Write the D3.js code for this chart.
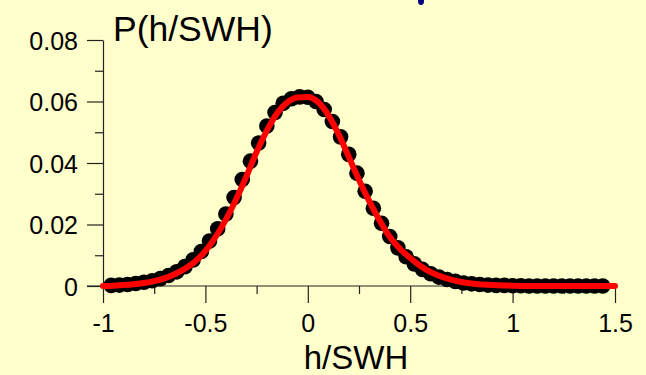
<!DOCTYPE html>
<html>
<head>
<meta charset="utf-8">
<script src="https://cdn.jsdelivr.net/npm/d3@7"></script>
<style>
  html, body { margin: 0; padding: 0; background: #FFFFCC; }
  svg { display: block; }
  text { font-family: "Liberation Sans", Arial, sans-serif; fill: #000; }
</style>
</head>
<body>
<svg id="chart" width="646" height="375"></svg>
<script>
// ---- data ----
const xTickValues = [-1, -0.5, 0, 0.5, 1, 1.5];
const xTickLabels = ["-1", "-0.5", "0", "0.5", "1", "1.5"];
const xMinorTicks = [-0.75, -0.25, 0.25, 0.75, 1.25];
const yTickValues = [0, 0.02, 0.04, 0.06, 0.08];
const yTickLabels = ["0", "0.02", "0.04", "0.06", "0.08"];
const yMinorTicks = [0.01, 0.03, 0.05, 0.07];

// measured points (black dots)
const dotX = [-0.96,-0.92,-0.88,-0.84,-0.80,-0.76,-0.72,-0.68,-0.64,-0.60,
              -0.56,-0.52,-0.48,-0.44,-0.40,-0.36,-0.32,-0.28,-0.24,-0.20,
              -0.16,-0.12,-0.08,-0.04, 0.00, 0.04, 0.08, 0.12, 0.16, 0.20,
               0.24, 0.28, 0.32, 0.36, 0.40, 0.44, 0.48, 0.52, 0.56, 0.60,
               0.64, 0.68, 0.72, 0.76, 0.80, 0.84, 0.88, 0.92, 0.96, 1.00,
               1.04, 1.08, 1.12, 1.16, 1.20, 1.24, 1.28, 1.32, 1.36, 1.40, 1.44];
const dotY = [0.0002,0.0003,0.0005,0.0008,0.0012,0.0017,0.0024,0.0034,0.0046,0.0063,
              0.0085,0.0112,0.0146,0.0186,0.0234,0.0288,0.0346,0.0406,0.0465,0.0520,
              0.0564,0.0594,0.0609,0.0615,0.0614,0.0600,0.0574,0.0535,0.0485,0.0428,
              0.0367,0.0308,0.0253,0.0204,0.0161,0.0124,0.0095,0.0072,0.0054,0.0040,
              0.0029,0.0021,0.0015,0.0010,0.0007,0.0005,0.0003,0.0002,0.0002,0.0001,
              0.0001,0.0000,0.0000,0.0000,0.0000,0.0000,0.0000,0.0000,0.0000,0.0000,0.0000];

// fitted curve (red line)
const fitX = [-1.00,-0.95,-0.90,-0.85,-0.80,-0.75,-0.70,-0.65,-0.60,-0.55,
              -0.50,-0.45,-0.40,-0.35,-0.30,-0.25,-0.20,-0.15,-0.10,-0.05,
               0.00, 0.05, 0.10, 0.15, 0.20, 0.25, 0.30, 0.35, 0.40, 0.45,
               0.50, 0.55, 0.60, 0.65, 0.70, 0.75, 0.80, 0.85, 0.90, 0.95,
               1.00, 1.05, 1.10, 1.15, 1.20, 1.25, 1.30, 1.35, 1.40, 1.45, 1.50];
const fitY = [0.0000,0.0001,0.0003,0.0006,0.0010,0.0016,0.0025,0.0038,0.0056,0.0080,
              0.0114,0.0160,0.0216,0.0282,0.0356,0.0436,0.0505,0.0562,0.0597,0.0613,
              0.0615,0.0598,0.0556,0.0494,0.0420,0.0345,0.0276,0.0214,0.0160,0.0121,
              0.0091,0.0065,0.0045,0.0031,0.0021,0.0013,0.0008,0.0005,0.0003,0.0002,
              0.0001,0.0000,0.0000,0.0000,0.0000,0.0000,0.0000,0.0000,0.0000,0.0000,0.0000];

const xTitle = "h/SWH";
const yTitle = "P(h/SWH)";

// ---- drawing ----
const svg = d3.select("#chart");
const x = d3.scaleLinear().domain([-1, 1.5]).range([103, 615]);
const y = d3.scaleLinear().domain([0, 0.08]).range([286, 40]);

const axisColor = "#222";
const font = '"Liberation Sans", Arial, sans-serif';

// x axis
const gx = svg.append("g").attr("transform", `translate(0,${y(0)})`);
gx.call(d3.axisBottom(x).tickValues(xTickValues).tickSize(17).tickSizeOuter(0)
        .tickFormat((d, i) => xTickLabels[i]));
gx.append("g").call(d3.axisBottom(x).tickValues(xMinorTicks).tickSize(8).tickFormat(""))
  .select(".domain").remove();
gx.select(".domain").attr("d", `M${x(-1) - 16},0H${x(1.5)}`);

// y axis
const gy = svg.append("g").attr("transform", `translate(${x(-1)},0)`);
gy.call(d3.axisLeft(y).tickValues(yTickValues).tickSize(16).tickSizeOuter(0)
        .tickFormat((d, i) => yTickLabels[i]));
gy.append("g").call(d3.axisLeft(y).tickValues(yMinorTicks).tickSize(8).tickFormat(""))
  .select(".domain").remove();

svg.selectAll(".domain, .tick line").attr("stroke", axisColor).attr("stroke-width", 1.2);
gx.selectAll(".tick text").attr("font-size", 25).attr("font-family", font)
  .attr("fill", "#000").attr("y", 0).attr("dy", null)
  .attr("transform", "translate(0,46)");
gy.selectAll(".tick text").attr("font-size", 25).attr("font-family", font)
  .attr("fill", "#000").attr("x", -25).attr("dy", "0.36em");

// points
const pts = dotX.map((v, i) => ({ x: v, y: dotY[i] }));
svg.append("g").selectAll("circle").data(pts).join("circle")
  .attr("cx", d => x(d.x)).attr("cy", d => y(d.y)).attr("r", 7.8)
  .attr("fill", "#000");

// fitted line
const fit = fitX.map((v, i) => ({ x: v, y: fitY[i] }));
svg.append("path").datum(fit)
  .attr("d", d3.line().x(d => x(d.x)).y(d => y(d.y)).curve(d3.curveMonotoneX))
  .attr("fill", "none").attr("stroke", "#FF0000").attr("stroke-width", 6)
  .attr("stroke-linecap", "round").attr("stroke-linejoin", "round");

// titles
svg.append("text").attr("x", 113).attr("y", 41).attr("font-size", 35.5).text(yTitle);
svg.append("text").attr("x", 356).attr("y", 368.5).attr("text-anchor", "middle")
  .attr("font-size", 33).text(xTitle);

// clipped title fragment at the very top
svg.append("ellipse").attr("cx", 421).attr("cy", 1).attr("rx", 3).attr("ry", 4).attr("fill", "#000080");
</script>
</body>
</html>
